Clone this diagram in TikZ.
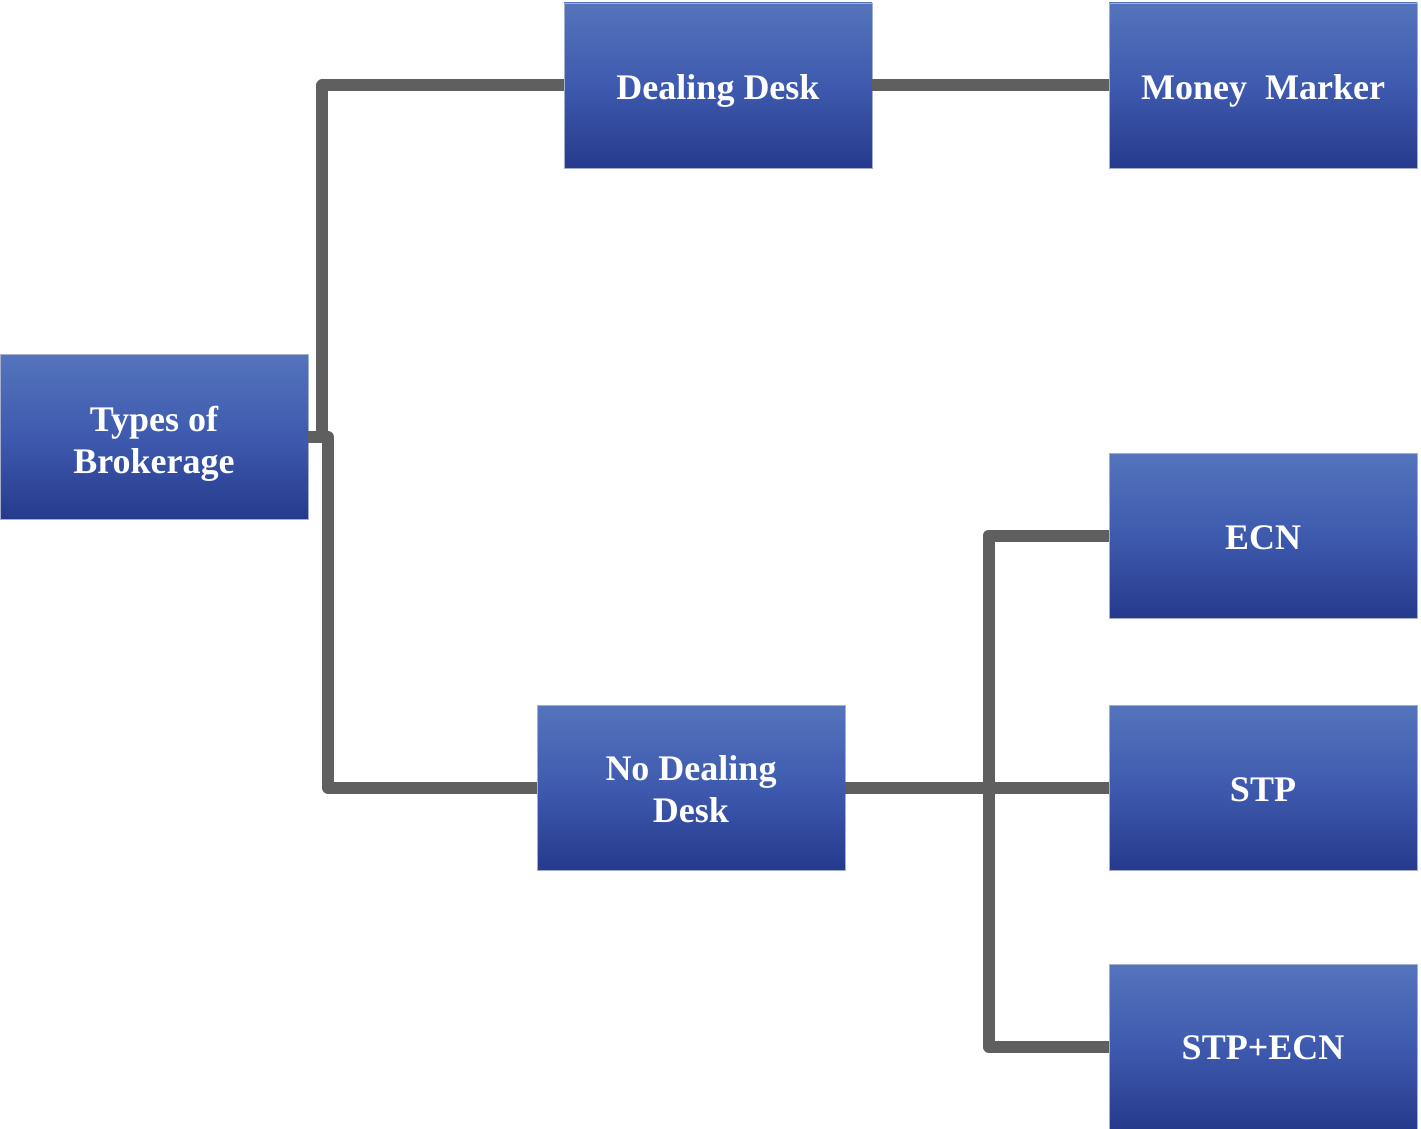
\documentclass[tikz,border=0pt]{standalone}
\usepackage{fontspec}
\setmainfont{Liberation Serif}
\definecolor{boxtop}{HTML}{5474BC}
\definecolor{boxmid}{HTML}{3E5AAE}
\definecolor{boxbot}{HTML}{263A8C}
\definecolor{boxedge}{HTML}{A4AECF}
\definecolor{linkgray}{HTML}{5F5F5F}
\tikzset{
  bluebox/.style={rectangle, inner sep=0pt, minimum width=154pt, minimum height=82.5pt,
    top color=boxtop, bottom color=boxbot, middle color=boxmid,
    draw=boxedge, line width=0.4pt},
  lbl/.style={text=white, align=center, inner sep=0pt,
    font=\fontsize{18}{21}\selectfont\bfseries},
  link/.style={draw=linkgray, line width=6pt, line join=round, line cap=butt}
}
\begin{document}
\begin{tikzpicture}[x=0.5pt,y=-0.5pt]
\useasboundingbox (0,0) rectangle (1421,1129);
\node[bluebox, label={[lbl,yshift=-3.25pt]center:Types of\\Brokerage}] (types) at (154,437) {};
\node[bluebox, label={[lbl,yshift=-2.9pt]center:Dealing Desk}] (deal) at (718,85.5) {};
\node[bluebox, label={[lbl,yshift=-2.9pt]center:Money~ Marker}] (money) at (1263,85.5) {};
\node[bluebox, label={[lbl,yshift=-0.9pt]center:ECN}] (ecn) at (1263,535.5) {};
\node[bluebox, label={[lbl,yshift=-1pt]center:No Dealing\\Desk}] (nodeal) at (691,787.5) {};
\node[bluebox, label={[lbl,yshift=-1pt]center:STP}] (stp) at (1263,787.5) {};
\node[bluebox, label={[lbl,yshift=-0.6pt]center:STP+ECN}] (stpecn) at (1263,1046.5) {};
\draw[link] (types.east) -- ++(14,0) |- (deal.west);
\draw[link] (types.east) -- ++(19.5,0) |- (nodeal.west);
\draw[link] (deal.east) -- (money.west);
\draw[link] (nodeal.east) -- (stp.west);
\draw[link] (ecn.west) -- ++(-120,0) |- (stpecn.west);
\end{tikzpicture}
\end{document}
